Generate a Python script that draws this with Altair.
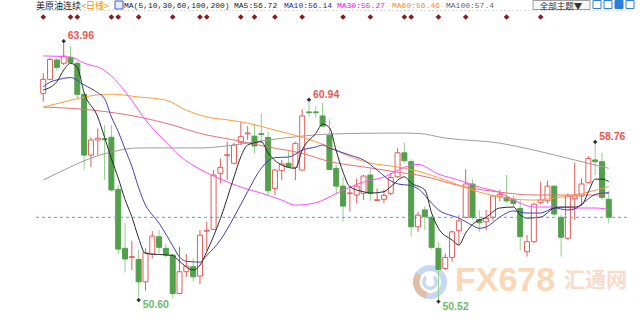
import altair as alt
import pandas as pd

# ---------------- data ----------------
opens = [61.27, 61.99, 62.99, 62.82, 63.13, 62.82, 61.22, 58.08, 58.86, 58.93,
         59.00, 56.31, 53.27, 52.80, 52.70, 51.54, 52.97, 53.87, 53.27, 52.92,
         50.94, 52.06, 52.32, 51.84, 54.15, 54.25, 57.14, 58.05, 57.66, 58.72,
         59.18, 59.06, 59.19, 58.99, 56.36, 57.28, 57.66, 57.45, 57.31, 60.31,
         60.31, 60.10, 59.11, 57.40, 56.48, 56.09, 56.02, 56.11, 57.05, 55.74,
         55.80, 56.11, 56.96, 58.20, 57.74, 54.38, 55.25, 54.87, 53.27, 52.23,
         52.80, 54.18, 54.87, 56.59, 54.76, 54.64, 54.87, 55.95, 55.90, 55.80,
         55.33, 53.09, 53.61, 55.62, 55.72, 56.48, 54.87, 53.79, 55.83, 55.97,
         56.66, 57.83, 57.74, 55.80]
highs = [62.30, 63.11, 63.13, 63.96, 63.71, 62.95, 61.30, 59.00, 59.46, 59.63,
         59.63, 56.54, 54.57, 53.66, 53.21, 53.27, 54.16, 54.21, 53.49, 53.00,
         53.35, 52.97, 52.75, 54.21, 54.64, 57.31, 57.91, 58.77, 58.72, 59.80,
         59.58, 59.72, 60.24, 59.29, 57.35, 57.83, 58.31, 58.77, 60.44, 60.94,
         60.60, 60.78, 59.93, 57.57, 56.96, 56.45, 56.88, 57.05, 57.40, 56.36,
         56.30, 57.14, 58.43, 58.72, 57.86, 55.16, 55.45, 54.95, 53.61, 53.00,
         54.18, 54.98, 57.35, 56.83, 55.25, 55.25, 56.00, 56.30, 57.05, 56.00,
         55.76, 53.95, 55.60, 56.71, 56.76, 56.50, 54.98, 56.10, 57.69, 56.88,
         58.03, 58.76, 58.20, 56.24]
lows = [60.84, 61.96, 62.44, 62.73, 62.80, 61.01, 57.31, 57.45, 58.08, 56.79,
        56.20, 52.97, 52.03, 52.15, 50.60, 51.08, 52.75, 53.01, 52.80, 50.68,
        50.90, 51.80, 51.54, 51.42, 53.14, 54.20, 56.62, 56.79, 57.60, 58.60,
        58.86, 58.17, 58.69, 56.02, 56.02, 56.79, 57.45, 56.79, 57.28, 60.06,
        60.00, 59.50, 57.30, 56.02, 54.64, 55.16, 55.59, 55.76, 55.72, 55.70,
        55.60, 56.00, 56.90, 57.69, 53.87, 54.12, 54.21, 53.21, 50.52, 52.15,
        52.58, 53.44, 54.80, 54.76, 54.12, 54.20, 54.70, 55.70, 55.60, 55.40,
        53.18, 52.84, 53.55, 55.55, 55.59, 54.95, 52.84, 53.70, 54.73, 55.50,
        56.60, 57.05, 55.76, 54.56]
closes = [61.99, 63.02, 62.61, 63.19, 62.87, 61.22, 58.08, 58.86, 58.95, 58.88,
          56.28, 53.23, 52.72, 52.84, 51.54, 53.04, 53.90, 53.32, 52.92, 50.94,
          52.06, 52.35, 51.80, 53.95, 54.20, 57.05, 57.45, 58.10, 58.60, 59.03,
          59.22, 58.55, 59.15, 56.24, 57.31, 57.62, 57.48, 58.69, 60.10, 60.27,
          60.27, 59.58, 57.34, 56.48, 55.45, 56.13, 56.48, 57.00, 56.11, 55.78,
          56.00, 56.93, 58.20, 57.79, 54.38, 54.98, 54.90, 53.32, 52.18, 52.80,
          54.12, 54.69, 56.59, 54.87, 54.59, 54.81, 55.97, 56.05, 55.72, 55.59,
          53.87, 53.61, 55.55, 55.76, 56.48, 55.04, 53.84, 55.97, 55.97, 56.59,
          57.91, 57.74, 55.90, 54.87]

ma5_i = [0, 2, 3, 4, 5, 6, 8, 9, 10, 11, 12, 13, 14, 15, 17, 19, 20, 22, 23, 24, 26,
         28, 29, 30, 32, 33, 35, 37, 38, 40, 41, 42, 43, 44, 45, 47, 48, 50, 51, 53,
         54, 56, 57, 58, 60, 61, 62, 63, 65, 67, 69, 70, 71, 73, 75, 76, 78, 79, 80,
         81, 82, 83]
ma5_v = [61.44, 61.87, 62.47, 62.82, 62.6, 61.3, 60.05, 59.0, 57.9, 56.9, 55.8, 54.9,
         53.8, 53.0, 52.95, 52.9, 52.6, 52.15, 52.4, 53.1, 54.8, 56.95, 58.0, 58.6,
         58.77, 58.2, 57.57, 57.4, 58.34, 59.2, 59.68, 59.5, 58.3, 57.2, 56.45, 56.19,
         56.12, 56.19, 56.45, 56.96, 56.64, 56.28, 55.09, 54.3, 53.7, 53.44, 54.06,
         54.5, 54.88, 55.35, 55.4, 54.98, 54.83, 54.88, 55.35, 55.4, 55.4, 55.5,
         56.17, 56.84, 56.84, 56.72]
ma10_i = [0, 1, 2, 4, 6, 8, 9, 10, 11, 12, 13, 14, 15, 16, 17, 18, 19, 20, 21, 23, 24,
          26, 28, 30, 32, 34, 36, 38, 40, 41, 42, 45, 47, 49, 51, 52, 54, 55, 57, 58,
          60, 61, 63, 64, 65, 67, 69, 71, 73, 75, 77, 78, 79, 81, 82, 83]
ma10_v = [61.6, 61.85, 61.96, 62.08, 61.7, 61.3, 61.0, 60.05, 59.3, 58.4, 57.5, 56.4,
          55.5, 55.0, 54.57, 54.0, 53.4, 52.82, 52.6, 52.56, 52.9, 53.7, 54.88, 56.2,
          57.4, 57.95, 57.98, 58.34, 58.5, 58.6, 58.45, 58.08, 57.83, 57.31, 56.75,
          56.6, 56.5, 56.35, 55.6, 55.25, 54.95, 54.83, 54.45, 54.3, 54.37, 54.88,
          55.2, 55.09, 55.09, 55.35, 55.25, 55.3, 55.55, 56.05, 56.12, 56.14]
ma30_i = [0, 4, 6, 9, 11, 13, 15, 18, 20, 23, 26, 29, 32, 35, 37, 40, 43, 45, 47, 50,
          53, 55, 58, 61, 64, 67, 70, 72, 75, 78, 81, 83]
ma30_v = [63.2, 63.14, 62.83, 62.45, 61.8, 60.9, 59.9, 58.75, 58.05, 57.35, 56.85,
          56.43, 56.12, 55.76, 55.5, 55.62, 56.1, 56.43, 56.69, 56.95, 57.45, 57.6,
          57.1, 56.79, 56.43, 56.15, 55.6, 55.4, 55.4, 55.35, 55.35, 55.27]
ma60_i = [0, 3, 6, 10, 14, 18, 21, 24, 27, 30, 34, 38, 42, 45, 48, 52, 55, 59, 64, 68,
          72, 76, 80, 83]
ma60_v = [60.56, 60.82, 61.08, 61.23, 61.08, 60.92, 60.4, 60.05, 59.9, 59.73, 59.37,
          59.0, 58.5, 58.0, 57.67, 57.47, 57.25, 56.79, 56.17, 55.86, 55.76, 55.92,
          56.17, 56.46]
ma100_i = [0, 4, 7, 10, 14, 23, 28, 33, 38, 42, 52, 55, 59, 67, 72, 78, 83]
ma100_v = [56.79, 57.47, 57.93, 58.24, 58.45, 58.45, 58.6, 58.86, 59.06, 59.17, 59.22,
           59.2, 58.96, 58.7, 58.34, 57.83, 57.4]
ma200_i = [0, 7, 14, 19, 23, 28, 33, 38, 42, 47, 52, 55, 62, 67, 72, 81, 83]
ma200_v = [60.56, 60.41, 60.05, 59.63, 59.2, 58.86, 58.5, 58.17, 57.75, 57.47, 57.2,
           57.05, 56.43, 56.17, 56.02, 56.02, 56.12]

event_i = [0, 4, 5, 10, 11, 14, 19, 23, 24, 29, 31, 34, 38, 44, 48, 53, 54, 58, 62, 68, 73]
tick_vals = [65.57, 63.56, 61.55, 59.53, 57.52, 55.51, 53.49, 51.48]
hi_i = [3, 39, 81]
hi_v = [63.96, 60.94, 58.76]
lo_i = [14, 58]
lo_v = [50.60, 50.52]

# ---------------- chart ----------------
W, H = 594, 310
RED = "#e35d5b"
GREEN = "#52a04b"
GREEN_WICK = "#93cf8d"

xs = alt.Scale(domain=[-0.33, 85.38], nice=False, zero=False)
ys = alt.Scale(domain=[49.57, 65.57], nice=False, zero=False)
X = alt.X("i:Q", scale=xs, axis=None)

n = len(opens)
candles = pd.DataFrame({"i": list(range(n)), "open": opens, "high": highs,
                        "low": lows, "close": closes})
candles["dir"] = ["up" if c >= o else "down" for o, c in zip(opens, closes)]

dummy = pd.DataFrame({"k": [0]})


def txt(t, x, y, color, size, font, weight="normal", align="left", opacity=1.0):
    return alt.Chart(pd.DataFrame({"t": [t]})).mark_text(
        align=align, baseline="middle", color=color, fontSize=size, font=font,
        fontWeight=weight, opacity=opacity
    ).encode(x=alt.value(x), y=alt.value(y), text="t:N")


def box(x1, x2, y1, y2, fill, stroke, sw=1.0):
    return alt.Chart(dummy).mark_rect(fill=fill, stroke=stroke, strokeWidth=sw).encode(
        x=alt.value(x1), x2=alt.value(x2), y=alt.value(y1), y2=alt.value(y2))


layers = []

# watermark (behind)
layers.append(alt.Chart(dummy).mark_arc(radius=17, radius2=11, theta=0, theta2=6.283,
                                        color="#8fb2e6", opacity=0.5)
              .encode(x=alt.value(394), y=alt.value(272)))
layers.append(alt.Chart(dummy).mark_arc(radius=17, radius2=10, theta=3.4, theta2=5.3,
                                        color="#f4a35e", opacity=0.5)
              .encode(x=alt.value(394), y=alt.value(272)))
layers.append(alt.Chart(dummy).mark_arc(radius=8, radius2=4.5, theta=0.6, theta2=5.6,
                                        color="#8fb2e6", opacity=0.5)
              .encode(x=alt.value(394), y=alt.value(272)))
layers.append(txt("FX678", 419, 271, "#f5a04a", 34, "Liberation Sans", "bold", opacity=0.4))
layers.append(txt("汇通网", 528, 271, "#f0a27a", 21, "Noto Sans CJK SC", "bold", opacity=0.38))

# wicks
layers.append(alt.Chart(candles).mark_rule(strokeWidth=1).encode(
    x=X,
    y=alt.Y("low:Q", scale=ys, title=None,
            axis=alt.Axis(values=tick_vals, format=".2f", labelColor="#555",
                          labelFont="Liberation Sans", labelFontSize=10.5,
                          tickSize=3, tickColor="#999", domainColor="#d5d5d5",
                          grid=False, labelPadding=1)),
    y2="high:Q",
    color=alt.Color("dir:N", scale=alt.Scale(domain=["up", "down"], range=[RED, GREEN_WICK]),
                    legend=None),
))
# bodies
layers.append(alt.Chart(candles).mark_bar(size=5, strokeWidth=1).encode(
    x=X,
    y=alt.Y("open:Q", scale=ys, axis=None),
    y2="close:Q",
    fill=alt.Fill("dir:N", scale=alt.Scale(domain=["up", "down"], range=["#ffffff", GREEN]),
                  legend=None),
    stroke=alt.Stroke("dir:N", scale=alt.Scale(domain=["up", "down"], range=[RED, GREEN]),
                      legend=None),
))

# moving averages
for mi, mv, col in [(ma200_i, ma200_v, "#e57373"), (ma100_i, ma100_v, "#9e9e9e"),
                    (ma60_i, ma60_v, "#ff9c3a"), (ma30_i, ma30_v, "#ff4dff"),
                    (ma10_i, ma10_v, "#4040b8"), (ma5_i, ma5_v, "#2b2b2b")]:
    layers.append(alt.Chart(pd.DataFrame({"i": mi, "v": mv})).mark_line(
        color=col, strokeWidth=1, interpolate="monotone").encode(
        x=X, y=alt.Y("v:Q", scale=ys, axis=None)))

# last close dashed line
layers.append(alt.Chart(dummy).mark_rule(color="#4da3ff", strokeDash=[3, 3], strokeWidth=1)
              .encode(y=alt.Y(datum=closes[-1], scale=ys, axis=None),
                      x=alt.value(0), x2=alt.value(W)))
# top dashed border
layers.append(alt.Chart(dummy).mark_rule(color="#dddddd", strokeDash=[2, 2], strokeWidth=1)
              .encode(y=alt.value(0.5), x=alt.value(0), x2=alt.value(W)))

# event diamonds
layers.append(alt.Chart(pd.DataFrame({"i": event_i})).mark_point(
    shape="diamond", filled=True, size=32, color="#8b1a1a", opacity=1).encode(
    x=X, y=alt.value(7)))

# extremes
hi_df = pd.DataFrame({"i": hi_i, "v": hi_v, "t": [f"{v:.2f}" for v in hi_v]})
lo_df = pd.DataFrame({"i": lo_i, "v": lo_v, "t": [f"{v:.2f}" for v in lo_v]})
for d in (hi_df, lo_df):
    layers.append(alt.Chart(d).mark_point(shape="cross", filled=True, size=14,
                                          color="#222", opacity=1)
                  .encode(x=X, y=alt.Y("v:Q", scale=ys, axis=None)))
layers.append(alt.Chart(hi_df).mark_text(align="left", baseline="middle", dx=4, dy=-5,
                                         color="#e8584f", fontSize=10.5,
                                         font="Liberation Sans", fontWeight="bold")
              .encode(x=X, y=alt.Y("v:Q", scale=ys, axis=None), text="t:N"))
layers.append(alt.Chart(lo_df).mark_text(align="left", baseline="middle", dx=4, dy=5,
                                         color="#72b86c", fontSize=10.5,
                                         font="Liberation Sans", fontWeight="bold")
              .encode(x=X, y=alt.Y("v:Q", scale=ys, axis=None), text="t:N"))

# header
HY = -4.5
layers.append(txt("美原油连续", 0, HY, "#222", 9, "Noto Sans CJK SC"))
layers.append(txt("<日线>", 45, HY, "#f08c00", 9, "Noto Sans CJK SC"))
layers.append(box(79, 87, -9, -1, "#e4ecff", "#3a5bbf"))
layers.append(txt("MA(5,10,30,60,100,200)", 88, HY, "#222", 8, "Liberation Mono"))
layers.append(txt("MA5:56.72", 198, HY, "#222", 8, "Liberation Mono"))
layers.append(txt("MA10:56.14", 248, HY, "#2a2aa8", 8, "Liberation Mono"))
layers.append(txt("MA30:55.27", 301, HY, "#ff00ff", 8, "Liberation Mono"))
layers.append(txt("MA60:56.46", 356, HY, "#ff8c1a", 8, "Liberation Mono"))
layers.append(txt("MA100:57.4", 410, HY, "#666", 8, "Liberation Mono"))

# top-right controls
layers.append(box(497, 554, -9.5, -0.5, "#f6f6f6", "#a0a0a0"))
layers.append(txt("全部主题▼", 525, HY, "#333", 8.5, "Noto Sans CJK SC", align="center"))
layers.append(box(557, 565, -9.5, -1.5, "#ffffff", "#2f7fd8"))
layers.append(box(568, 576, -9.5, -1.5, "#ffffff", "#2f7fd8"))
layers.append(box(579, 587, -9.5, -1.5, "#2f7fd8", "#2f7fd8"))
layers.append(box(590, 598, -9.5, -1.5, "#ffffff", "#2f7fd8"))

chart = alt.layer(*layers).properties(
    width=W, height=H,
    padding={"left": 36, "top": 10, "right": 10, "bottom": 0},
    autosize=alt.AutoSizeParams(type="none"),
    background="white",
).configure_view(stroke=None)

chart.save("out.html", embed_options={"renderer": "svg", "actions": False})
